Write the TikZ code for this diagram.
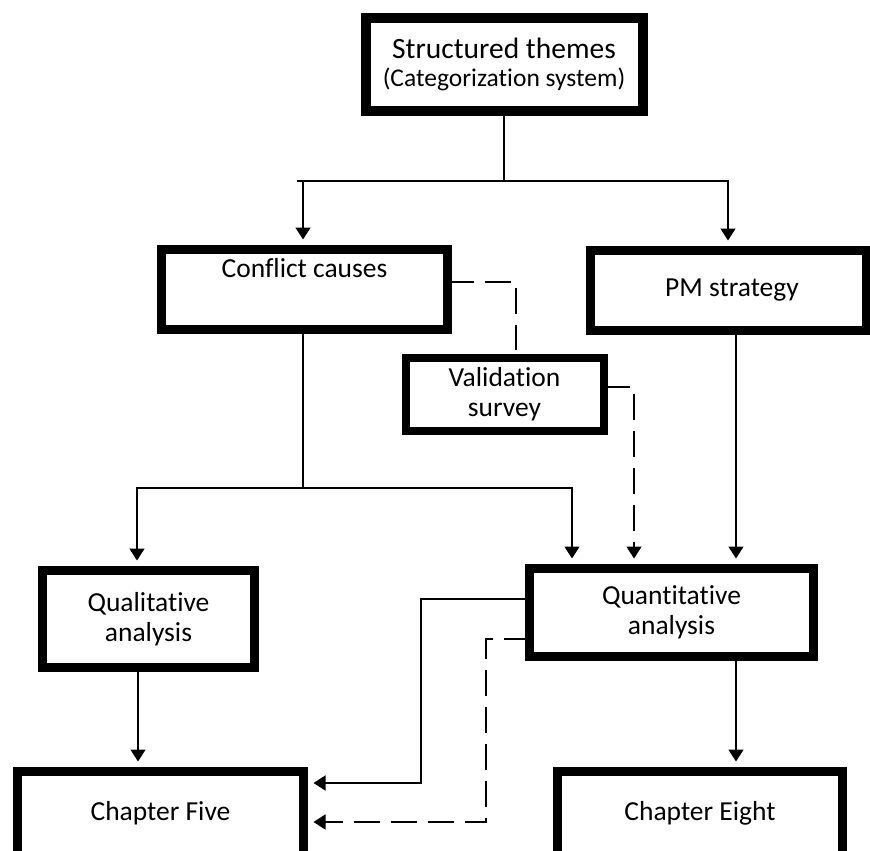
\documentclass[tikz,border=0pt]{standalone}
\usepackage{fontspec}
\setmainfont{Carlito}[Ligatures=NoCommon]
\usetikzlibrary{arrows.meta,calc}
\begin{document}
\begin{tikzpicture}[x=1pt,y=-1pt,
  box/.style={draw,line width=9pt,inner sep=0pt,outer sep=0pt,align=center,
    font=\fontsize{27.5}{30}\selectfont,text=black},
  conn/.style={line width=1.6pt},
  arr/.style={conn,-{Triangle[width=15pt,length=12pt]},shorten >=10pt},
  dsh/.style={dash pattern=on 26pt off 11pt}]
\useasboundingbox (0,0) rectangle (870,851);
\clip (0,0) rectangle (870,851);
\fill[white] (0,0) rectangle (870,851);

\node[box,line width=10pt,minimum width=277pt,minimum height=93pt,
  font=\fontsize{29.5}{29}\selectfont] (top) at (504,64.5)
  {Structured themes\\[-1pt]{\fontsize{25.5}{29}\selectfont(Categorization system)}};
\node[box,minimum width=286pt,minimum height=80pt] (conf) at (304.5,289.5) {};
\node[font=\fontsize{27.5}{30}\selectfont,inner sep=0pt] (conft) at (304.5,268) {Conflict causes};
\node[box,minimum width=276pt,minimum height=80pt] (pm) at (728,290.5) {};
\node[font=\fontsize{27.5}{30}\selectfont,inner sep=0pt] (pmt) at (732,290.5) {PM strategy};
\node[box,line width=8pt,minimum width=198pt,minimum height=73pt] (val) at (504.5,394.5) {Validation\\survey};
\node[box,minimum width=212pt,minimum height=97pt] (qual) at (148.5,619) {Qualitative\\analysis};
\node[box,minimum width=284pt,minimum height=88pt] (quant) at (671.5,612.5) {Quantitative\\analysis};
\node[box,minimum width=286pt,minimum height=84pt] (ch5) at (160.5,813.5) {Chapter Five};
\node[box,minimum width=285pt,minimum height=84pt] (ch8) at (700,813.5) {Chapter Eight};

% top split
\coordinate (j1) at (504,181);
\draw[conn] (top.south) -- (j1);
\draw[conn] (j1) -- (297,181);
\draw[arr] (j1) -| ([xshift=-1.5pt]conf.north);
\draw[arr] (j1) -| (pm.north);

% conflict causes split
\coordinate (j2) at (303,488);
\draw[conn] ([xshift=-1.5pt]conf.south) -- (j2);
\draw[arr] (j2) -| ([xshift=-11.5pt]qual.north);
\draw[arr] (j2) -| ([xshift=-99.5pt]quant.north);

% validation links
\draw[conn,dsh] ([yshift=7.5pt]conf.east) -| ([xshift=11.5pt,yshift=8pt]val.north);
\draw[arr,dsh] ([yshift=7.5pt]val.east) -| ([xshift=-37.5pt]quant.north);

% PM to quantitative
\draw[arr] ([xshift=8pt]pm.south) -- ([xshift=64.5pt]quant.north);

% to chapters
\draw[arr] ([xshift=-10.5pt]qual.south) -- ([xshift=-22.5pt]ch5.north);
\draw[arr] ([xshift=64.5pt]quant.south) -- ([xshift=36pt]ch8.north);
\coordinate (k1) at (421,599);
\coordinate (k2) at (486,639);
\draw[arr] ([yshift=13.5pt]quant.west) -- (k1) |- ([yshift=30.5pt]ch5.east);
\draw[arr,dsh] ([yshift=-26.5pt]quant.west) -- (k2) |- ([yshift=-8.5pt]ch5.east);
\end{tikzpicture}
\end{document}
